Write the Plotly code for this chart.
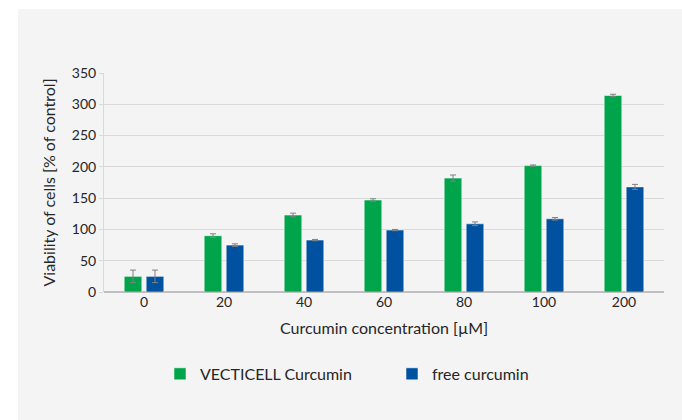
import plotly.graph_objects as go

categories = ["0", "20", "40", "60", "80", "100", "200"]
vecticell = [25, 90, 123, 147, 182, 202, 314]
vecticell_err = [10, 3, 3, 2, 5, 1, 2]
free = [25, 75, 83, 99, 109, 117, 168]
free_err = [10, 2, 1, 1, 3, 2, 4]
y_ticks = [0, 50, 100, 150, 200, 250, 300, 350]

font_family = "Lato"
green = "#00a44a"
blue = "#0052a0"

fig = go.Figure()
fig.add_trace(go.Bar(
    x=categories, y=vecticell, name="VECTICELL Curcumin",
    marker=dict(color=green, line=dict(color="rgba(255,255,255,0.5)", width=1)),
    error_y=dict(type="data", array=vecticell_err, color="#808080", thickness=1, width=3),
))
fig.add_trace(go.Bar(
    x=categories, y=free, name="free curcumin",
    marker=dict(color=blue, line=dict(color="rgba(255,255,255,0.5)", width=1)),
    error_y=dict(type="data", array=free_err, color="#808080", thickness=1, width=3),
))

fig.update_layout(
    width=682, height=420,
    margin=dict(l=104, r=18, t=73, b=128),
    paper_bgcolor="#f4f4f4",
    plot_bgcolor="rgba(0,0,0,0)",
    barmode="group", bargap=0.45, bargroupgap=0.2,
    font=dict(family=font_family, color="#404040", size=13),
    showlegend=True,
    legend=dict(orientation="h", x=0.1, xanchor="left", y=-0.374, yanchor="middle",
                font=dict(size=16, color="#262626"), entrywidth=187, bgcolor="rgba(0,0,0,0)"),
    shapes=[
        dict(type="rect", xref="paper", yref="paper", x0=-0.2, x1=-0.1536,
             y0=-0.8, y1=1.4, fillcolor="white", line=dict(width=0), layer="below"),
        dict(type="rect", xref="paper", yref="paper", x0=-0.2, x1=1.2,
             y0=1.292, y1=1.4, fillcolor="white", line=dict(width=0), layer="below"),
    ],
)
fig.update_xaxes(
    title=dict(text="Curcumin concentration [µM]", font=dict(size=16, color="#262626"), standoff=13),
    showline=False, ticks="", tickfont=dict(size=14, color="#262626"), showgrid=False,
)
fig.update_yaxes(
    title=dict(text="Viability of cells [% of control]", font=dict(size=16, color="#262626"), standoff=12),
    range=[0, 350], tickvals=y_ticks, showgrid=True, gridcolor="#d9d9d9", gridwidth=1,
    zeroline=True, zerolinecolor="#bfbfbf", zerolinewidth=2,
    showline=True, linecolor="#d9d9d9", linewidth=1, ticks="outside", ticklen=4, tickcolor="#d9d9d9",
    tickfont=dict(size=14, color="#262626"),
)
fig.write_html(
    "out.html", config={"displayModeBar": False},
    post_script=(
        "document.body.style.margin='0';"
        "document.body.style.overflow='hidden';"
        "document.documentElement.style.overflow='hidden';"
        "document.documentElement.style.background='#f4f4f4';"
        "document.body.style.background='#f4f4f4';"
    ),
)
